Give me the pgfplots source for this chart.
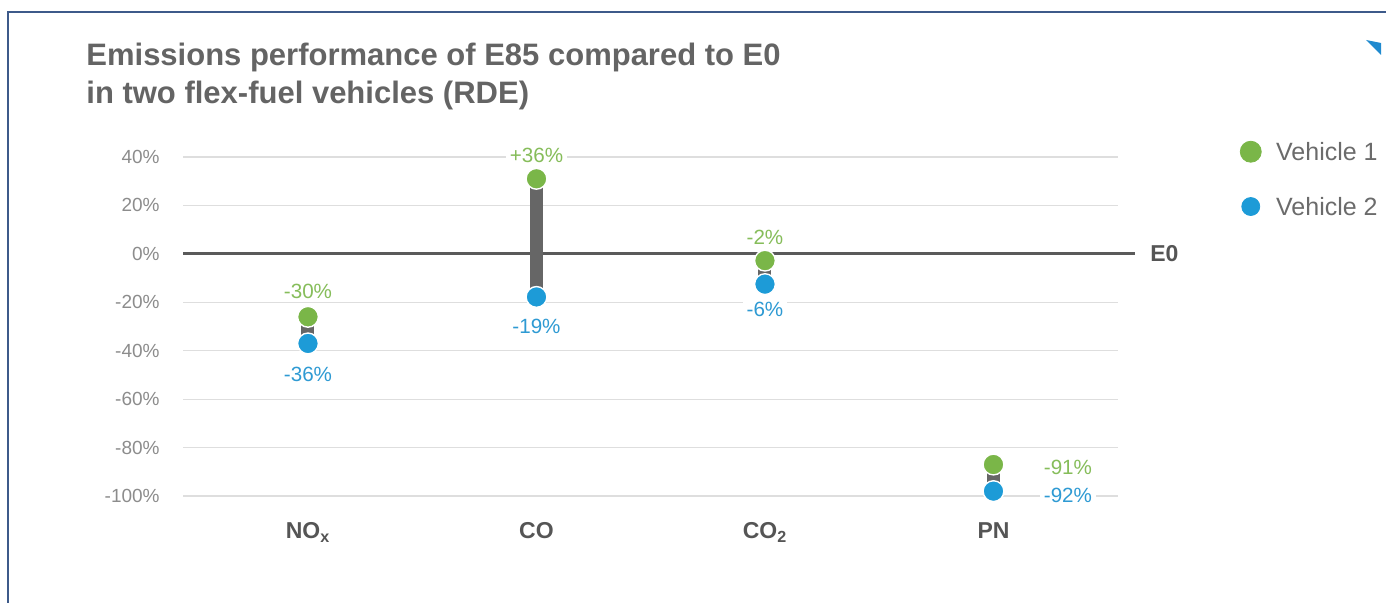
\documentclass[border=0pt]{standalone}
\usepackage{pgfplots}
\pgfplotsset{compat=1.18}
\usepackage{fontspec}
\setmainfont{Liberation Sans}

\definecolor{vgreen}{HTML}{7AB648}
\definecolor{vblue}{HTML}{1D9BD7}
\definecolor{lgreen}{HTML}{86BD5A}
\definecolor{lblue}{HTML}{2E9AD3}
\definecolor{gridcol}{HTML}{DEDEDE}
\definecolor{zerocol}{HTML}{5A5A5A}
\definecolor{barcol}{HTML}{666666}
\definecolor{tickcol}{HTML}{8C8C8C}
\definecolor{catcol}{HTML}{555555}
\definecolor{titlecol}{HTML}{646464}
\definecolor{legcol}{HTML}{6B6B6B}
\definecolor{framecol}{HTML}{3D5A8A}
\definecolor{tricol}{HTML}{1F8ACF}

\tikzset{vlab/.style={font=\fontsize{10.3}{12}\selectfont, fill=white, inner xsep=2pt, inner ysep=1pt}}

\begin{document}
\begin{tikzpicture}
\useasboundingbox (0,0) rectangle (693pt,-301.5pt);
% frame and corner mark
\draw[framecol, line width=1pt] (4pt,-301.5pt) -- (4pt,-6pt) -- (693pt,-6pt);
\fill[tricol] (683pt,-20pt) -- (690.5pt,-21.5pt) -- (690.5pt,-27.5pt) -- cycle;
% title
\node[anchor=base west, inner sep=0pt, font=\fontsize{15.5}{18}\selectfont\bfseries, text=titlecol]
  at (43pt,-33pt) {Emissions performance of E85 compared to E0};
\node[anchor=base west, inner sep=0pt, font=\fontsize{15.5}{18}\selectfont\bfseries, text=titlecol]
  at (43pt,-52pt) {in two flex-fuel vehicles (RDE)};

\begin{axis}[
  at={(91.5pt,-248pt)}, anchor=south west,
  scale only axis, width=467.5pt, height=169.5pt,
  xmin=-0.547, xmax=3.545, ymin=-100, ymax=40,
  clip=false,
  axis line style={draw=none},
  major tick length=0pt,
  ymajorgrids, grid style={gridcol, line width=0.6pt},
  ytick={-100,-80,...,40},
  yticklabels={-100\%,-80\%,-60\%,-40\%,-20\%,0\%,20\%,40\%},
  yticklabel style={font=\fontsize{9.5}{11}\selectfont, text=tickcol, inner sep=0pt, xshift=-11.5pt},
  xtick={0,1,2,3},
  xticklabels={NO\textsubscript{x},CO,CO\textsubscript{2},PN},
  xticklabel style={font=\fontsize{11.5}{13}\selectfont\bfseries, text=catcol, inner sep=0pt, yshift=-13pt},
  legend cell align=left,
  legend style={at={(axis cs:4.0766,46.84)}, anchor=north west, draw=none, fill=none,
    inner sep=0pt, row sep=17.25pt, font=\fontsize{12.5}{14}\selectfont,
    nodes={inner sep=0pt, text height=9pt, text depth=0pt, text=legcol},
    /tikz/every odd column/.append style={column sep=7.25pt}},
]
% E0 reference line
\addplot[zerocol, line width=1.5pt, forget plot] coordinates {(-0.547,0) (3.619,0)};
% connectors between the two vehicles
\addplot[barcol, line width=6.5pt, forget plot] coordinates {(0,-26) (0,-37)};
\addplot[barcol, line width=6.5pt, forget plot] coordinates {(1,31) (1,-17.8)};
\addplot[barcol, line width=6.5pt, forget plot] coordinates {(2,-2.8) (2,-12.5)};
\addplot[barcol, line width=6.5pt, forget plot] coordinates {(3,-87) (3,-98)};
% vehicle 1
\addplot[only marks, mark=*, mark size=5.2pt, mark options={fill=vgreen, draw=white, line width=0.7pt}, forget plot]
  coordinates {(0,-26) (1,31) (2,-2.8) (3,-87)};
% vehicle 2
\addplot[only marks, mark=*, mark size=5.2pt, mark options={fill=vblue, draw=white, line width=0.7pt}, forget plot]
  coordinates {(0,-37) (1,-17.8) (2,-12.5) (3,-98)};

\addlegendimage{legend image code/.code={\fill[vgreen] (0pt,0pt) circle (5.25pt);}}
\addlegendentry{Vehicle 1}
\addlegendimage{legend image code/.code={\fill[vblue] (0pt,0pt) circle (4.5pt);}}
\addlegendentry{Vehicle 2}

% value labels
\node[vlab, text=lgreen] at (axis cs:0,-15.7) {-30\%};
\node[vlab, text=lblue] at (axis cs:0,-49.6) {-36\%};
\node[vlab, text=lgreen] at (axis cs:1,40.8) {+36\%};
\node[vlab, text=lblue] at (axis cs:1,-29.8) {-19\%};
\node[vlab, text=lgreen] at (axis cs:2,7.0) {-2\%};
\node[vlab, text=lblue] at (axis cs:2,-22.8) {-6\%};
\node[vlab, text=lgreen] at (axis cs:3.326,-88.0) {-91\%};
\node[vlab, text=lblue] at (axis cs:3.326,-99.6) {-92\%};

\node[anchor=west, inner sep=0pt, xshift=7.5pt, font=\fontsize{11.5}{13}\selectfont\bfseries, text=catcol]
  at (axis cs:3.619,0) {E0};
\end{axis}
\end{tikzpicture}
\end{document}
